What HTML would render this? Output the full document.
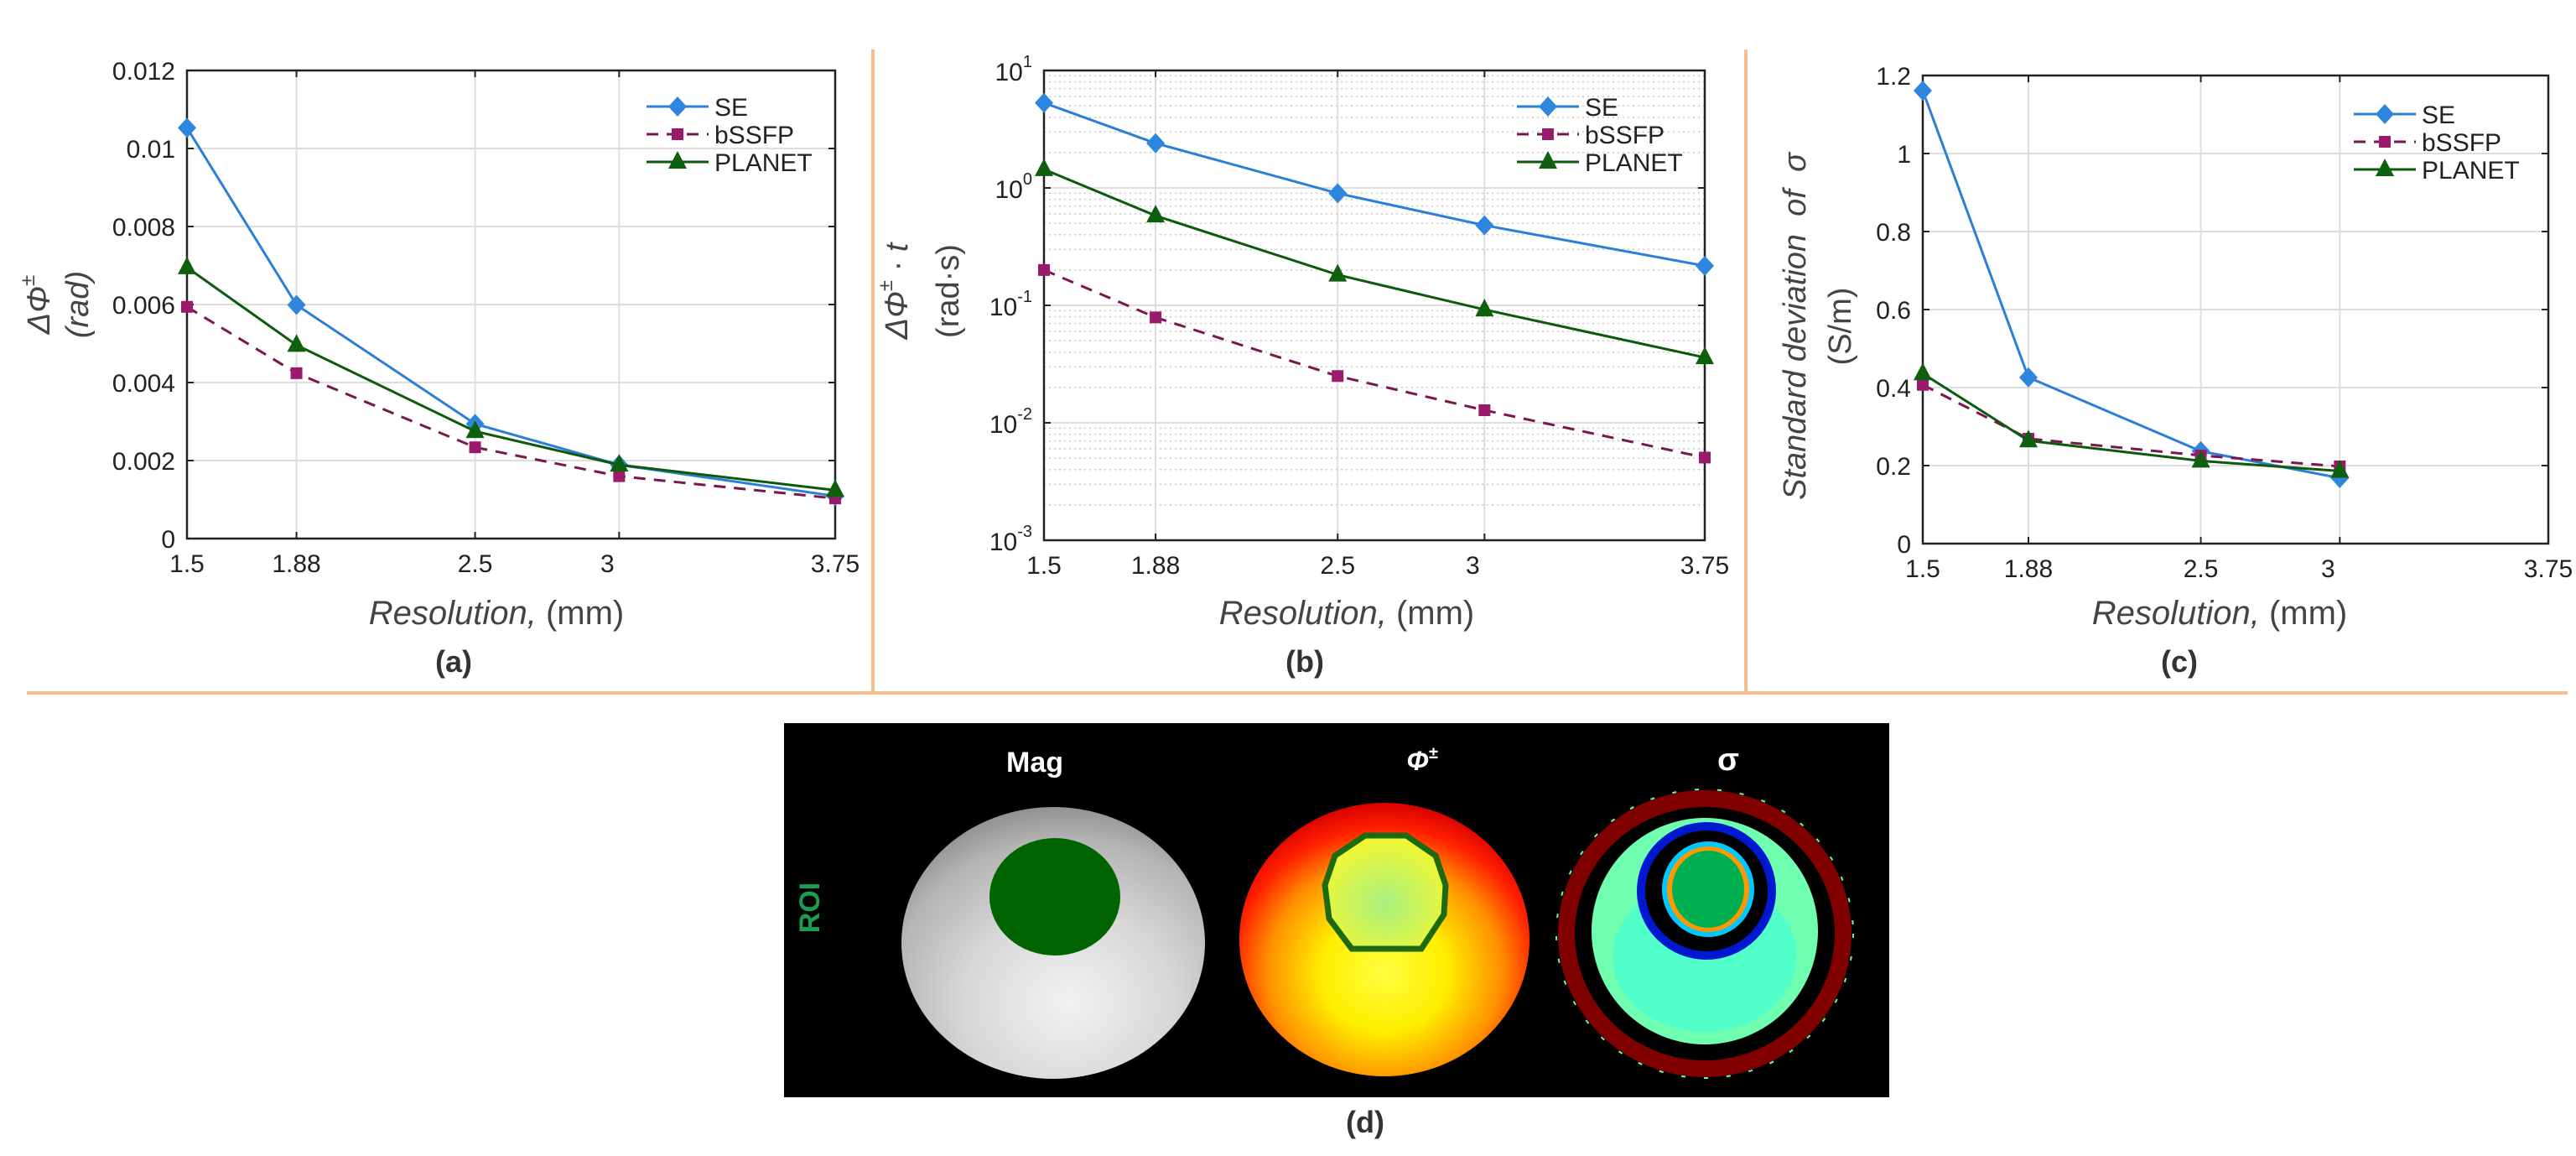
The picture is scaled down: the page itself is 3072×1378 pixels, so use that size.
<!DOCTYPE html>
<html><head><meta charset="utf-8">
<style>
html,body{margin:0;padding:0;background:#fff;}
svg{display:block;font-family:"Liberation Sans",sans-serif;}
</style></head>
<body>
<svg id="fig" xmlns="http://www.w3.org/2000/svg" width="3072" height="1378" viewBox="0 0 3072 1378">
<defs>
<radialGradient id="magGrad" cx="0.55" cy="0.72" r="0.75">
<stop offset="0" stop-color="#f2f2f2"/><stop offset="0.45" stop-color="#d8d8d8"/><stop offset="0.8" stop-color="#b4b4b4"/><stop offset="1" stop-color="#8a8a8a"/>
</radialGradient>
<radialGradient id="phiGrad" cx="0.5" cy="0.62" r="0.62">
<stop offset="0" stop-color="#ffff40"/><stop offset="0.35" stop-color="#ffee00"/><stop offset="0.65" stop-color="#ff9000"/><stop offset="0.85" stop-color="#ff2000"/><stop offset="1" stop-color="#d80000"/>
</radialGradient>
<radialGradient id="phiIn" cx="0.5" cy="0.6" r="0.6">
<stop offset="0" stop-color="#a8f080"/><stop offset="1" stop-color="#f4f830"/>
</radialGradient>
</defs>
<g>
<line x1="1041" y1="59" x2="1041" y2="826" stroke="#f6c08e" stroke-width="4"/>
<line x1="2082" y1="59" x2="2082" y2="826" stroke="#f6c08e" stroke-width="4"/>
<line x1="32" y1="826" x2="3062" y2="826" stroke="#f6c08e" stroke-width="4"/>
</g>
<g id="chartA"></g>
<g id="chartB"></g>
<g id="chartC"></g>

<g>
<rect x="935" y="862" width="1318" height="446" fill="#000"/>
<text x="966" y="1082" fill="#1a9e50" font-size="34" font-weight="bold" text-anchor="middle" dominant-baseline="central" transform="rotate(-90 966 1082)">ROI</text>
<text x="1234" y="920" fill="#fff" font-size="34" font-weight="bold" text-anchor="middle">Mag</text>
<text x="1696" y="918" fill="#fff" font-size="32" font-weight="bold" font-style="italic" text-anchor="middle">Φ<tspan font-size="20" dy="-14">±</tspan></text>
<text x="2061" y="918" fill="#fff" font-size="38" font-weight="bold" text-anchor="middle">σ</text>
<g>
<ellipse cx="1256" cy="1124" rx="181" ry="162" fill="url(#magGrad)"/>
<ellipse cx="1258" cy="1069" rx="78" ry="70" fill="#006400"/>
</g>
<g>
<ellipse cx="1651" cy="1120" rx="173" ry="163" fill="url(#phiGrad)"/>
<polygon points="1628,996 1677,996 1712,1020 1724,1055 1722,1090 1695,1131 1612,1131 1585,1095 1580,1055 1592,1020" fill="url(#phiIn)" stroke="#1e6a10" stroke-width="7"/>
</g>
<g>
<ellipse cx="2033" cy="1113" rx="165" ry="161" fill="none" stroke="#800000" stroke-width="20"/>
<ellipse cx="2033" cy="1113" rx="177" ry="172" fill="none" stroke="#60ffb0" stroke-width="2" stroke-dasharray="5 22"/>
<ellipse cx="2033" cy="1110" rx="135" ry="135" fill="#70ffb0"/>
<ellipse cx="2033" cy="1140" rx="110" ry="90" fill="#40ffd8" opacity="0.6"/>
<ellipse cx="2035" cy="1062" rx="78" ry="77" fill="#000" stroke="#0018d0" stroke-width="10"/>
<ellipse cx="2035" cy="1062" rx="62" ry="62" fill="#000"/>
<ellipse cx="2037" cy="1060" rx="52" ry="54" fill="#ff9800" stroke="#00c8ff" stroke-width="6"/>
<ellipse cx="2037" cy="1060" rx="43" ry="46" fill="#00b050"/>
</g>
</g>
<text x="1628" y="1350" font-size="36" font-weight="bold" fill="#333" text-anchor="middle">(d)</text>
</svg>
<script>
// ---- data ----
const resolutionCategories = [1.5, 1.88, 2.5, 3, 3.75];
const seriesNames = ["SE", "bSSFP", "PLANET"];
const aSE = [0.01053, 0.00599, 0.00294, 0.00189, 0.00109];
const aBSSFP = [0.00594, 0.00424, 0.00234, 0.0016, 0.00103];
const aPLANET = [0.00695, 0.00496, 0.00275, 0.00189, 0.00124];
const aYTicks = [0, 0.002, 0.004, 0.006, 0.008, 0.01, 0.012];
const aYTickLabels = ["0", "0.002", "0.004", "0.006", "0.008", "0.01", "0.012"];
const bSE = [5.3, 2.4, 0.9, 0.48, 0.217];
const bBSSFP = [0.20, 0.079, 0.025, 0.0128, 0.00506];
const bPLANET = [1.44, 0.58, 0.182, 0.092, 0.036];
const bYTickExps = [-3, -2, -1, 0, 1];
const cResolution = [1.5, 1.88, 2.5, 3];
const cSE = [1.161, 0.426, 0.237, 0.168];
const cBSSFP = [0.407, 0.269, 0.226, 0.198];
const cPLANET = [0.436, 0.264, 0.212, 0.186];
const cYTicks = [0, 0.2, 0.4, 0.6, 0.8, 1, 1.2];
const cYTickLabels = ["0", "0.2", "0.4", "0.6", "0.8", "1", "1.2"];
const xTickLabels = ["1.5", "1.88", "2.5", "3", "3.75"];

const NS = "http://www.w3.org/2000/svg";
function mk(parent, tag, attrs, txt) {
  const e = document.createElementNS(NS, tag);
  for (const k in attrs) e.setAttribute(k, attrs[k]);
  if (txt !== undefined) e.textContent = txt;
  parent.appendChild(e);
  return e;
}
const COLORS = {SE: "#2b7fd6", bSSFP: "#7a1650", PLANET: "#0d5a0d"};
const MCOL = {SE: "#2f86de", bSSFP: "#9a1a6c", PLANET: "#0e5f0e"};

function marker(g, name, x, y) {
  let m;
  if (name === "SE") {
    m = mk(g, "polygon", {points: `${x},${y-12} ${x+11},${y} ${x},${y+12} ${x-11},${y}`, fill: MCOL.SE});
  } else if (name === "bSSFP") {
    m = mk(g, "rect", {x: x-7, y: y-7, width: 14, height: 14, fill: MCOL.bSSFP});
  } else {
    m = mk(g, "polygon", {points: `${x},${y-13} ${x+11},${y+8} ${x-11},${y+8}`, fill: MCOL.PLANET});
  }
  return m;
}

function drawPanel(cfg) {
  const g = document.getElementById(cfg.id);
  const L = cfg.left, R = cfg.right, T = cfg.top, B = cfg.bottom;
  const xs = v => L + (v - 1.5) / (3.75 - 1.5) * (R - L);
  const ys = cfg.ys;
  if (cfg.log) {
    for (let i = 0; i < bYTickExps.length - 1; i++) {
      for (let k = 2; k <= 9; k++) {
        const y = ys(k * Math.pow(10, bYTickExps[i]));
        const l = mk(g, "line", {x1: L, x2: R, y1: y, y2: y, stroke: "#c8c8c8", "stroke-width": 1.5, "stroke-dasharray": "2 4"});
        
        
      }
    }
  }
  cfg.yTicks.forEach((t, i) => {
    const y = ys(t);
    const gl = mk(g, "line", {x1: L, x2: R, y1: y, y2: y, stroke: "#dedede", "stroke-width": 2});
    
    
    mk(g, "line", {x1: L, x2: L + 8, y1: y, y2: y, stroke: "#222", "stroke-width": 2});
    mk(g, "line", {x1: R - 8, x2: R, y1: y, y2: y, stroke: "#222", "stroke-width": 2});
    let tl;
    if (cfg.log) {
      tl = mk(g, "text", {x: L - 14, y: y + 12, "font-size": 30, fill: "#222", "text-anchor": "end"});
      mk(tl, "tspan", {}, "10");
      mk(tl, "tspan", {"font-size": 20, dy: -16}, String(cfg.yLabels[i]));
    } else {
      tl = mk(g, "text", {x: L - 14, y: y + 11, "font-size": 30, fill: "#222", "text-anchor": "end"}, cfg.yLabels[i]);
    }
    
    
  });
  resolutionCategories.forEach((c, i) => {
    const x = xs(c);
    const gl = mk(g, "line", {x1: x, x2: x, y1: T, y2: B, stroke: "#dedede", "stroke-width": 2});
    
    
    mk(g, "line", {x1: x, x2: x, y1: B - 8, y2: B, stroke: "#222", "stroke-width": 2});
    mk(g, "line", {x1: x, x2: x, y1: T, y2: T + 8, stroke: "#222", "stroke-width": 2});
    const tl = mk(g, "text", {x: x + (i === 3 ? -14 : 0), y: B + 40, "font-size": 30, fill: "#222", "text-anchor": "middle"}, xTickLabels[i]);
    
    
  });
  const box = mk(g, "rect", {x: L, y: T, width: R - L, height: B - T, fill: "none", stroke: "#222", "stroke-width": 2.5});
  
  
  cfg.series.forEach((vals, si) => {
    const name = seriesNames[si];
    const sg = mk(g, "g", {});
    
    
    const pts = vals.map((v, j) => [xs(cfg.xVals[j]), ys(v)]);
    const ln = mk(sg, "polyline", {points: pts.map(p => p.join(",")).join(" "), fill: "none", stroke: COLORS[name], "stroke-width": 3, "stroke-dasharray": name === "bSSFP" ? "14 10" : "none"});
    
    
    pts.forEach(p => {
      const m = marker(sg, name, p[0], p[1]);
      
      
    });
  });
  const lg = mk(g, "g", {});
  
  
  seriesNames.forEach((n, i) => {
    const y = cfg.legY + i * 33;
    const le = mk(lg, "g", {});
    
    
    mk(le, "line", {x1: cfg.legX, x2: cfg.legX + 74, y1: y, y2: y, stroke: COLORS[n], "stroke-width": 3, "stroke-dasharray": n === "bSSFP" ? "14 10" : "none"});
    marker(le, n, cfg.legX + 37, y);
    mk(le, "text", {x: cfg.legX + 81, y: y + 11, "font-size": 30, fill: "#222"}, n);
  });
  const xt = mk(g, "text", {x: cfg.xTitleX, y: 744, "font-size": 40, fill: "#444", "text-anchor": "middle"});
  mk(xt, "tspan", {"font-style": "italic"}, "Resolution,");
  mk(xt, "tspan", {}, " (mm)");
  
  
  const cap = mk(g, "text", {x: cfg.capX, y: 801, "font-size": 36, "font-weight": "bold", fill: "#333", "text-anchor": "middle"}, cfg.cap);
  
  
  cfg.yTitle.forEach((t) => {
    const yt = mk(g, "text", {x: t.x, y: t.y, "font-size": 38, fill: "#444", "text-anchor": "middle", "dominant-baseline": "central", transform: `rotate(-90 ${t.x} ${t.y})`});
    t.parts.forEach(p => mk(yt, "tspan", p.a, p.s));
    
    
  });
}

drawPanel({
  id: "chartA", left: 223, right: 996, top: 84, bottom: 642,
  ys: v => 642 - v / 0.012 * (642 - 84), yTicks: aYTicks, yLabels: aYTickLabels,
  xVals: resolutionCategories, series: [aSE, aBSSFP, aPLANET],
  legX: 771, legY: 127, xTitleX: 592, capX: 541, cap: "(a)",
  yTitle: [
    {x: 47, y: 363, parts: [{a: {"font-style": "italic"}, s: "ΔΦ"}, {a: {"font-size": 24, dy: -14, "font-style": "italic"}, s: "±"}]},
    {x: 93, y: 363, parts: [{a: {"font-style": "italic"}, s: "(rad)"}]}
  ]
});
drawPanel({
  id: "chartB", left: 1245, right: 2033, top: 84, bottom: 644, log: true,
  ys: v => 644 - (Math.log10(v) + 3) / 4 * (644 - 84), yTicks: bYTickExps.map(e => Math.pow(10, e)), yLabels: bYTickExps,
  xVals: resolutionCategories, series: [bSE, bBSSFP, bPLANET],
  legX: 1809, legY: 127, xTitleX: 1606, capX: 1556, cap: "(b)",
  yTitle: [
    {x: 1070, y: 347, parts: [{a: {"font-style": "italic"}, s: "ΔΦ"}, {a: {"font-size": 24, dy: -14, "font-style": "italic"}, s: "±"}, {a: {dy: 14}, s: "\u00a0·\u00a0"}, {a: {"font-style": "italic"}, s: "t"}]},
    {x: 1131, y: 347, parts: [{a: {}, s: "(rad·s)"}]}
  ]
});
drawPanel({
  id: "chartC", left: 2293, right: 3039, top: 90, bottom: 648,
  ys: v => 648 - v / 1.2 * (648 - 90), yTicks: cYTicks, yLabels: cYTickLabels,
  xVals: cResolution, series: [cSE, cBSSFP, cPLANET],
  legX: 2807, legY: 136, xTitleX: 2647, capX: 2599, cap: "(c)",
  yTitle: [
    {x: 2141, y: 389, parts: [{a: {"font-style": "italic"}, s: "Standard deviation\u00a0\u00a0of\u00a0\u00a0σ"}]},
    {x: 2195, y: 389, parts: [{a: {}, s: "(S/m)"}]}
  ]
});
</script>
</body></html>
